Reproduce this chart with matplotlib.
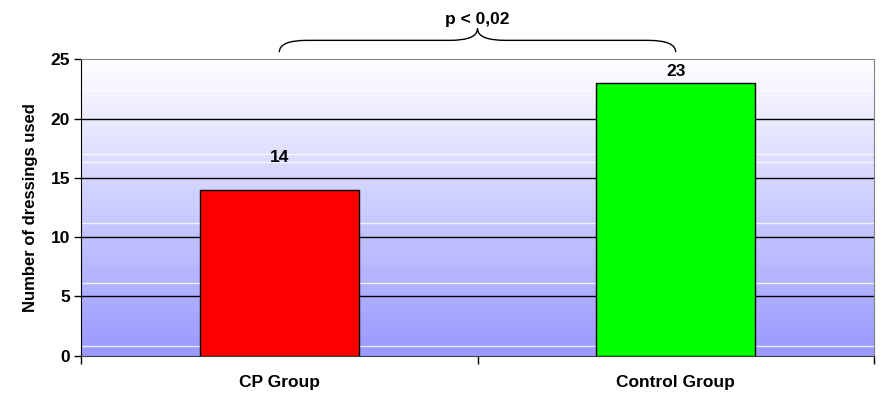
import numpy as np
import matplotlib.pyplot as plt
from matplotlib.path import Path
from matplotlib.patches import PathPatch
from matplotlib.colors import LinearSegmentedColormap

plt.rcParams['font.family'] = ['Liberation Sans', 'DejaVu Sans']
plt.rcParams['font.weight'] = 'bold'

groups = ["CP Group", "Control Group"]
dressings = [14, 23]
bar_colors = ["#ff0000", "#00ff00"]
label_offsets = [23.5, 8]  # points from bar top to label centre
p_text = "p < 0,02"
# light banding in the background fill
band_lines = [0.8, 6.1, 11.2, 16.3, 17.0, 22.4]

fig = plt.figure(figsize=(8.81, 3.97), dpi=100)
ax = fig.add_axes([0.092, 0.1045, 0.9, 0.7461])

x = np.arange(len(groups))
ax.set_xlim(-0.5, 1.5)
ax.set_ylim(0, 25)

# gradient plot area, white at top fading to lavender blue
cmap = LinearSegmentedColormap.from_list("bg", ["#9999ff", "#ffffff"])
grad = np.linspace(0, 1, 256).reshape(-1, 1)
ax.imshow(grad, cmap=cmap, origin="lower", aspect="auto",
          extent=[-0.5, 1.5, 0, 25], zorder=0)
for b in band_lines:
    ax.axhline(b, color="white", lw=1, alpha=0.8, zorder=0.5)

for v in [5, 10, 15, 20]:
    ax.axhline(v, color="black", lw=1, zorder=1)

bars = ax.bar(x, dressings, width=0.4, color=bar_colors,
              edgecolor="black", linewidth=1, zorder=2)
for xi, v, off in zip(x, dressings, label_offsets):
    ax.annotate(str(v), (xi, v), xytext=(0, off), textcoords="offset points",
                ha="center", va="center", fontsize=12.5, fontweight="bold")

# curly brace over both bars with the p-value
y0, y1, y2 = 25.6, 26.6, 27.6
verts = [(0, y0), (0, y1), (0.07, y1), (0.43, y1), (0.5, y1), (0.5, y2),
         (0.5, y1), (0.57, y1), (0.93, y1), (1, y1), (1, y0)]
codes = [Path.MOVETO, Path.CURVE3, Path.CURVE3, Path.LINETO,
         Path.CURVE3, Path.CURVE3, Path.CURVE3, Path.CURVE3,
         Path.LINETO, Path.CURVE3, Path.CURVE3]
ax.add_patch(PathPatch(Path(verts, codes), fill=False, lw=1,
                       edgecolor="black", clip_on=False))
ax.text(0.5, 28.4, p_text, ha="center", va="center",
        fontsize=12.5, fontweight="bold")

ax.set_yticks([0, 5, 10, 15, 20, 25])
ax.set_xticks(x)
ax.set_xticklabels(groups)
ax.set_xticks([-0.5, 0.5, 1.5], minor=True)
ax.tick_params(axis="x", which="major", length=0, pad=14, labelsize=12.5)
ax.tick_params(axis="x", which="minor", length=6, width=1, direction="out")
ax.tick_params(axis="y", length=5, width=1, labelsize=12.5, pad=3)
for lbl in ax.get_xticklabels() + ax.get_yticklabels():
    lbl.set_fontweight("bold")

ax.set_ylabel("Number of dressings used", fontsize=12, fontweight="bold",
              labelpad=9)

ax.spines["left"].set_color("black")
ax.spines["bottom"].set_color("#404040")
ax.spines["top"].set_color("#808080")
ax.spines["right"].set_color("#808080")

fig.savefig("out.png", dpi=100)
